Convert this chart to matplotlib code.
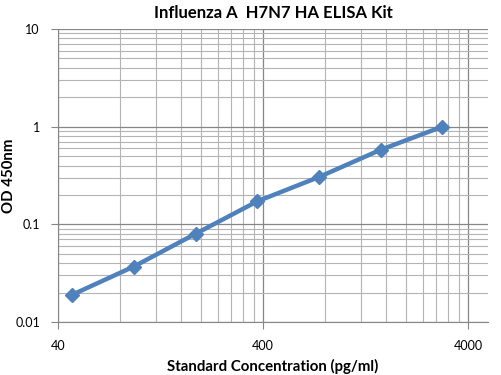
import numpy as np
import matplotlib.pyplot as plt
from matplotlib.ticker import LogLocator, NullFormatter, FixedLocator

# standard curve data
conc = [46.88, 93.75, 187.5, 375, 750, 1500, 3000]
od = [0.019, 0.037, 0.080, 0.172, 0.305, 0.58, 1.0]

x_ticks = [40, 400, 4000]
x_tick_labels = ['40', '400', '4000']
y_ticks = [0.01, 0.1, 1, 10]
y_tick_labels = ['0.01', '0.1', '1', '10']

plt.rcParams['font.family'] = ['Lato', 'DejaVu Sans']

fig = plt.figure(figsize=(5.01, 3.75), dpi=100)
ax = fig.add_axes([0.1158, 0.1413, 0.858, 0.7814])

ax.set_xscale('log')
ax.set_yscale('log')
ax.set_xlim(40, 5000)
ax.set_ylim(0.01, 10)

# excel-style grid: minor lines at multiples of 40 (x) and 1..9 (y)
x_minor = [40 * k * m for m in (1, 10) for k in range(2, 10)]
x_minor = [v for v in x_minor if 40 < v < 5000 and v not in x_ticks]
ax.xaxis.set_major_locator(FixedLocator(x_ticks))
ax.xaxis.set_minor_locator(FixedLocator(x_minor))
ax.set_xticklabels(x_tick_labels)
ax.xaxis.set_minor_formatter(NullFormatter())
ax.yaxis.set_major_locator(FixedLocator(y_ticks))
ax.set_yticklabels(y_tick_labels)
ax.yaxis.set_minor_locator(LogLocator(base=10, subs=np.arange(2, 10)))
ax.yaxis.set_minor_formatter(NullFormatter())

ax.grid(which='major', color='#868686', linewidth=0.9)
ax.grid(which='minor', color='#b4b4b4', linewidth=0.8)
ax.set_axisbelow(True)

for side in ('top', 'right'):
    ax.spines[side].set_visible(False)
for side in ('left', 'bottom'):
    ax.spines[side].set_color('#868686')

ax.tick_params(which='major', length=5, color='#868686', labelsize=9, pad=8)
ax.tick_params(axis='x', which='minor', length=0)
ax.tick_params(axis='y', which='minor', length=0)

ax.plot(conc, od, color='#4f81bd', linewidth=3.2, marker='D', markersize=7,
        markerfacecolor='#4f81bd', markeredgecolor='#4f81bd')

ax.set_title('Influenza A  H7N7 HA ELISA Kit', fontsize=12, fontweight='bold', pad=8)
ax.set_xlabel('Standard Concentration (pg/ml)', fontsize=10.8, fontweight='bold', labelpad=5)
ax.set_ylabel('OD 450nm', fontsize=10.8, fontweight='bold')
ax.yaxis.set_label_coords(-0.097, 0.5)

fig.savefig('out.png', dpi=100)
